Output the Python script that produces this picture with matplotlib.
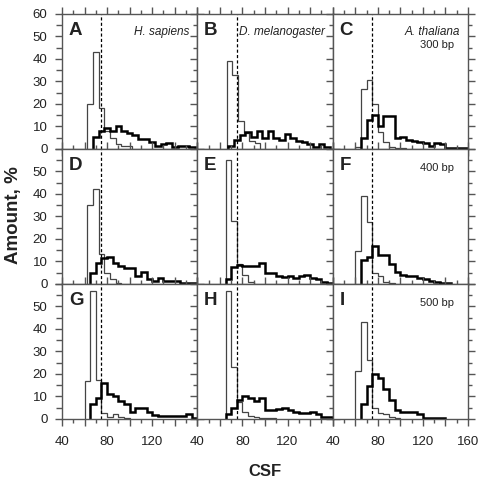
import matplotlib
matplotlib.use("Agg")
import matplotlib.pyplot as plt
from matplotlib.ticker import MultipleLocator, FuncFormatter
import numpy as np

plt.rcParams["font.family"] = ["Liberation Sans", "DejaVu Sans"]

# ---- data: CSF histograms (% of sequences), 5-unit bins -----------------
BIN_W = 5
PANEL_IDS = ["A", "B", "C", "D", "E", "F", "G", "H", "I"]
SPECIES = ["H. sapiens", "D. melanogaster", "A. thaliana"]
WINDOWS = ["300 bp", "400 bp", "500 bp"]
THRESHOLD = 75

# first bin edge of each histogram
THIN_START = [62.5, 66, 60, 62.5, 65, 60, 60, 65, 60]
THICK_START = [67.5, 67.5, 65, 65, 65, 65, 65, 65, 65]

thin_a = [20, 43, 18, 8, 5, 2, 1.5, 1.5]
thin_b = [39, 33, 12.5, 7, 3.5, 2.5]
thin_c = [1, 26.5, 30.5, 20, 7.5, 3, 1, 0.5, 0.5]
thin_d = [35, 42, 13.5, 5, 2, 0.5]
thin_e = [55, 28, 9, 4, 1]
thin_f = [14.5, 39, 27.5, 5, 3.5, 1, 0.5]
thin_g = [17, 57, 17.5, 2.5, 1, 2, 1, 0.5]
thin_h = [57, 23, 7.5, 3, 1.5, 1, 0.5, 0.5, 0.5]
thin_i = [21.5, 43, 26, 5, 2.5, 2, 1, 0.5]

thick_a = [5.2, 7.8, 9.2, 8.2, 10.4, 8.2, 7, 6.3, 4.5, 4.5, 3, 1.2, 2, 2.5,
           0.7, 1.5, 1.5, 0.7]
thick_b = [1.5, 4, 6, 7.5, 5.5, 8, 5, 8, 5, 4, 6.5, 5, 3.5, 3, 2, 1, 2, 1]
thick_c = [5, 13, 15, 10, 14.5, 14.5, 5, 5.5, 4, 3.5, 3, 2.5, 1.5, 2.5, 2,
           0.5, 0.5, 0.3, 0.3]
thick_d = [5, 9.5, 11.5, 12, 9.5, 8, 7, 7, 3.5, 5.5, 2, 1.5, 2.5, 1.2, 1.2,
           1.2, 0.5, 0.5, 0.5]
thick_e = [2, 7.5, 8.5, 8, 8, 8, 9.5, 5, 5, 3.5, 3, 3.5, 2.5, 3.5, 4, 2.5,
           2, 1, 0.5]
thick_f = [10.5, 12, 17, 13, 13, 9, 5.5, 4, 3.5, 3.5, 2.5, 2, 1.5, 1, 0.5,
           0.5]
thick_g = [6.5, 9.3, 16, 11, 10, 8, 6.5, 3, 5, 5, 3, 1.6, 1.2, 1.2, 1.2, 1.2,
           1.2, 2.2, 0.5]
thick_h = [2, 5, 8.5, 10, 9.5, 8, 9.5, 4, 4, 4.5, 5, 4, 3, 2.7, 2.5, 3, 2, 1,
           1]
thick_i = [6.5, 14.5, 20, 18, 13.5, 8.5, 4, 3, 3, 3, 2, 0.5, 0.5, 0.5, 0.5]

THIN = [thin_a, thin_b, thin_c, thin_d, thin_e, thin_f, thin_g, thin_h, thin_i]
THICK = [thick_a, thick_b, thick_c, thick_d, thick_e, thick_f, thick_g,
         thick_h, thick_i]

AX_COL = "#555555"
TXT_COL = "#222222"


def edges(start, vals):
    return start + BIN_W * np.arange(len(vals) + 1)


fig, axes = plt.subplots(3, 3, figsize=(4.82, 4.79), dpi=100)
fig.subplots_adjust(left=0.1286, right=0.971, top=0.9708, bottom=0.1253,
                    wspace=0, hspace=0)

for k, ax in enumerate(axes.flat):
    r, c = divmod(k, 3)
    thin, thick = THIN[k], THICK[k]
    ax.stairs(thin, edges(THIN_START[k], thin), baseline=0, fill=False,
              color="#444444", lw=0.9)
    ax.stairs(thick, edges(THICK_START[k], thick), baseline=0, fill=False,
              color="black", lw=1.8)
    ax.axvline(THRESHOLD, color="black", lw=0.9, ls=(0, (2.5, 1.8)))

    ax.set_xlim(40, 160)
    ax.set_ylim(0, 60)
    ax.xaxis.set_major_locator(MultipleLocator(20))
    ax.xaxis.set_minor_locator(MultipleLocator(10))
    ax.yaxis.set_major_locator(MultipleLocator(10))
    ax.yaxis.set_minor_locator(MultipleLocator(5))
    for s in ax.spines.values():
        s.set_color(AX_COL)
        s.set_linewidth(1.0)
    ax.tick_params(which="both", direction="out", top=True, right=True,
                   color=AX_COL, width=1.0, labelsize=9.5,
                   labelcolor=TXT_COL, pad=3)
    ax.tick_params(which="major", length=5)
    ax.tick_params(which="minor", length=3.2)
    ax.tick_params(labelbottom=(r == 2), labelleft=(c == 0))

    last = (c == 2)
    ax.xaxis.set_major_formatter(FuncFormatter(
        lambda v, p, last=last: f"{v:.0f}" if (v in (40, 80, 120) or
                                               (v == 160 and last)) else ""))
    top_row = (r == 0)
    ax.yaxis.set_major_formatter(FuncFormatter(
        lambda v, p, top_row=top_row: "" if (v == 60 and not top_row)
        else f"{v:.0f}"))

    # longer outward ticks on the outer left / bottom frame
    if r == 2:
        for t in ax.xaxis.get_major_ticks():
            t.tick1line.set_markersize(9)
        ax.tick_params(axis="x", pad=7)
    if c == 0:
        for t in ax.yaxis.get_major_ticks():
            t.tick1line.set_markersize(9)
        for t in ax.yaxis.get_minor_ticks():
            t.tick1line.set_markersize(4.3)
        ax.tick_params(axis="y", pad=5.5)

    ax.text(0.05, 0.88, PANEL_IDS[k], transform=ax.transAxes, fontsize=13.5,
            fontweight="bold", color=TXT_COL, ha="left", va="center")
    if r == 0:
        ax.text(0.94, 0.868, SPECIES[c], transform=ax.transAxes, fontsize=8.5,
                style="italic", color=TXT_COL, ha="right", va="center")
    if c == 2:
        ypos = 0.77 if r == 0 else 0.862
        ax.text(0.895, ypos, WINDOWS[r], transform=ax.transAxes, fontsize=8,
                color=TXT_COL, ha="right", va="center")

fig.text(0.029, 0.55, "Amount, %", rotation=90, fontsize=13.5,
         fontweight="bold", color=TXT_COL, ha="center", va="center")
fig.text(0.549, 0.016, "CSF", fontsize=12, fontweight="bold",
         color=TXT_COL, ha="center", va="center")

fig.savefig("out.png", dpi=100)
